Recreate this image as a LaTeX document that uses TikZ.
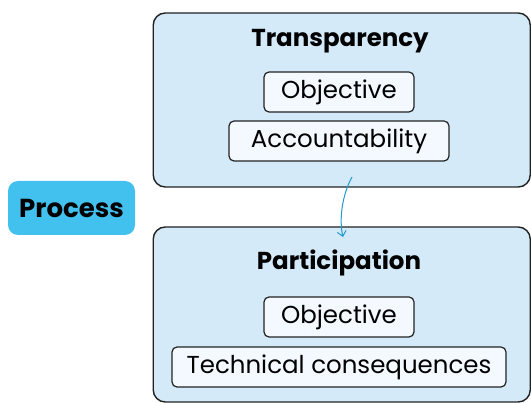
\documentclass[tikz,border=0pt]{standalone}
\usepackage{fontspec}
\setmainfont{Poppins}
\usetikzlibrary{arrows.meta}
\definecolor{contfill}{HTML}{D4EAF9}
\definecolor{itemfill}{HTML}{F3F9FE}
\definecolor{procfill}{HTML}{42C0EE}
\definecolor{edgecol}{HTML}{222222}
\definecolor{arrowcol}{HTML}{1F9BCF}
\tikzset{
  container/.style={draw=edgecol, line width=1.4pt, fill=contfill, rounded corners=12pt},
  itembox/.style={draw=edgecol, line width=1.2pt, fill=itemfill, rounded corners=5pt,
    minimum height=40pt, inner sep=0pt, font=\fontsize{24.5}{28}\selectfont},
  titletext/.style={font=\fontsize{24.5}{28}\selectfont\bfseries, inner sep=0pt, anchor=base},
  procbox/.style={fill=procfill, rounded corners=10pt, minimum width=127pt, minimum height=54pt,
    inner sep=0pt, font=\fontsize{26}{30}\selectfont\bfseries},
  flow/.style={draw=arrowcol, line width=1pt, -{Straight Barb[length=5pt,width=9pt]}}
}
\begin{document}
\begin{tikzpicture}[x=1pt,y=-1pt]
\useasboundingbox (0,0) rectangle (531,403);
\begin{scope}
\clip (0,0) rectangle (531,403);
\node[container, minimum width=377pt, minimum height=174pt, inner sep=0pt] (cT) at (341.75,100) {};
\node[container, minimum width=377pt, minimum height=175pt, inner sep=0pt] (cB) at (341.75,314.5) {};
\end{scope}
\node[titletext] (tT) at (340,47) {Transparency};
\node[itembox, minimum width=150pt] (o1) at (339,92) {Objective};
\node[itembox, minimum width=220pt] (acc) at (339,141) {Accountability};
\node[titletext] (tP) at (339,270) {Participation};
\node[itembox, minimum width=150pt] (o2) at (339,317) {Objective};
\node[itembox, minimum width=334pt] (tc) at (339,367) {Technical consequences};
\node[procbox] (proc) at (71.5,208) {Process};
\coordinate (as) at (352,177);
\coordinate (ae) at (343,237);
\draw[flow] (as) .. controls (342,195) and (339,220) .. (ae);
\end{tikzpicture}
\end{document}
